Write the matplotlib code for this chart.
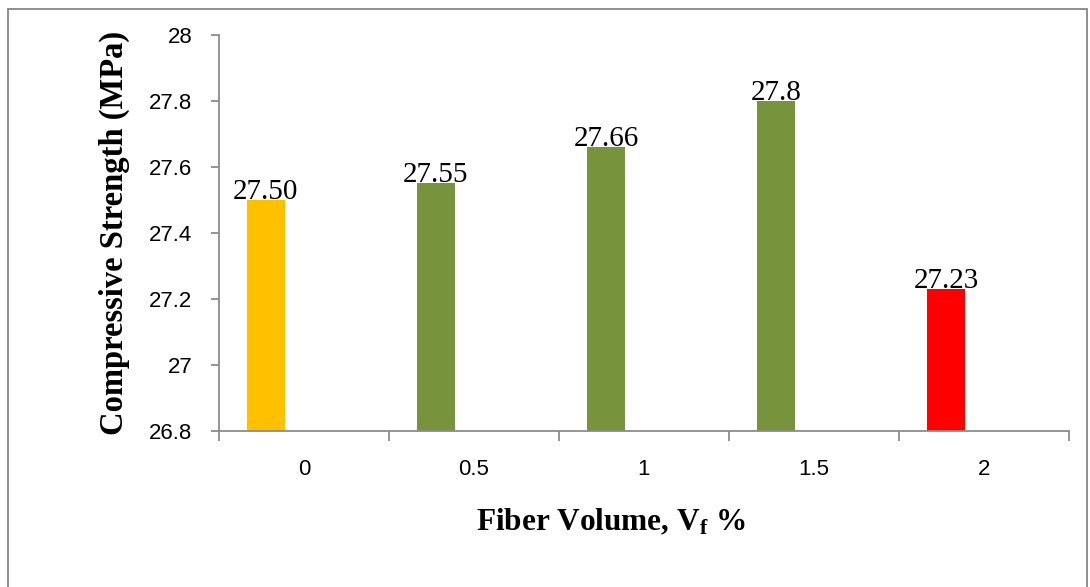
import matplotlib.pyplot as plt
from matplotlib.patches import Rectangle
from matplotlib.ticker import FixedLocator, FuncFormatter

# fiber volume fraction (%) vs compressive strength (MPa)
fiber_volume = ["0", "0.5", "1", "1.5", "2"]
strength = [27.50, 27.55, 27.66, 27.8, 27.23]
value_labels = ["27.50", "27.55", "27.66", "27.8", "27.23"]
bar_colors = ["#FFC000", "#77933C", "#77933C", "#77933C", "#FF0000"]

serif = ["Liberation Serif", "DejaVu Serif"]
sans = ["Liberation Sans", "DejaVu Sans"]

plt.rcParams["mathtext.fontset"] = "custom"
plt.rcParams["mathtext.bf"] = "Liberation Serif:bold"
plt.rcParams["mathtext.rm"] = "Liberation Serif"
plt.rcParams["mathtext.it"] = "Liberation Serif:italic"

fig = plt.figure(figsize=(10.9, 5.87), dpi=100)
ax = fig.add_axes([0.2009, 0.2658, 0.9807 - 0.2009, 0.9404 - 0.2658])

# bars sit left of each category centre, like an Excel clustered column
x = list(range(len(fiber_volume)))
offset = -0.224
xs = [i + offset for i in x]
ax.bar(xs, strength, width=0.224, color=bar_colors, zorder=2)

for xi, v, lab in zip(xs, strength, value_labels):
    ax.annotate(lab, (xi, v), xytext=(0, 1), textcoords="offset points",
                ha="center", va="baseline", fontsize=21, family=serif,
                color="black", zorder=3)

ax.set_ylim(26.8, 28.0)
ax.set_xlim(-0.5, len(fiber_volume) - 0.5)

ax.set_yticks([26.8, 27.0, 27.2, 27.4, 27.6, 27.8, 28.0])
ax.yaxis.set_major_formatter(FuncFormatter(lambda v, p: f"{v:g}"))

# category boundaries get tick marks, centres get the labels
ax.xaxis.set_major_locator(FixedLocator([i - 0.5 for i in range(len(fiber_volume) + 1)]))
ax.xaxis.set_major_formatter(FuncFormatter(lambda v, p: ""))
ax.xaxis.set_minor_locator(FixedLocator(x))
ax.set_xticklabels(fiber_volume, minor=True)

spine_color = "#8C8C8C"
for side in ["top", "right"]:
    ax.spines[side].set_visible(False)
for side in ["left", "bottom"]:
    ax.spines[side].set_color(spine_color)
    ax.spines[side].set_linewidth(1.3)

ax.tick_params(axis="y", direction="out", length=6, width=1.3, color=spine_color,
               pad=13, labelsize=16)
ax.tick_params(axis="x", which="major", direction="out", length=7, width=1.3,
               color=spine_color)
ax.tick_params(axis="x", which="minor", length=0, pad=20, labelsize=16)
for t in ax.get_yticklabels() + ax.get_xticklabels(minor=True):
    t.set_family(sans)

ax.set_ylabel("Compressive Strength (MPa)", fontsize=23.5, fontweight="bold",
              family=serif, labelpad=14)
fig.text(0.56, 0.11, r"Fiber Volume, V$_{\mathbf{f}}$ %", ha="center", va="center",
         fontsize=22.5, fontweight="bold", family=serif)

# chart area border
fig.patches.append(Rectangle((8 / 1090, -0.05), 1079 / 1090, 1.05 - 9 / 587,
                             transform=fig.transFigure, fill=False,
                             edgecolor="#868686", linewidth=1.3))

fig.savefig("out.png", dpi=100)
